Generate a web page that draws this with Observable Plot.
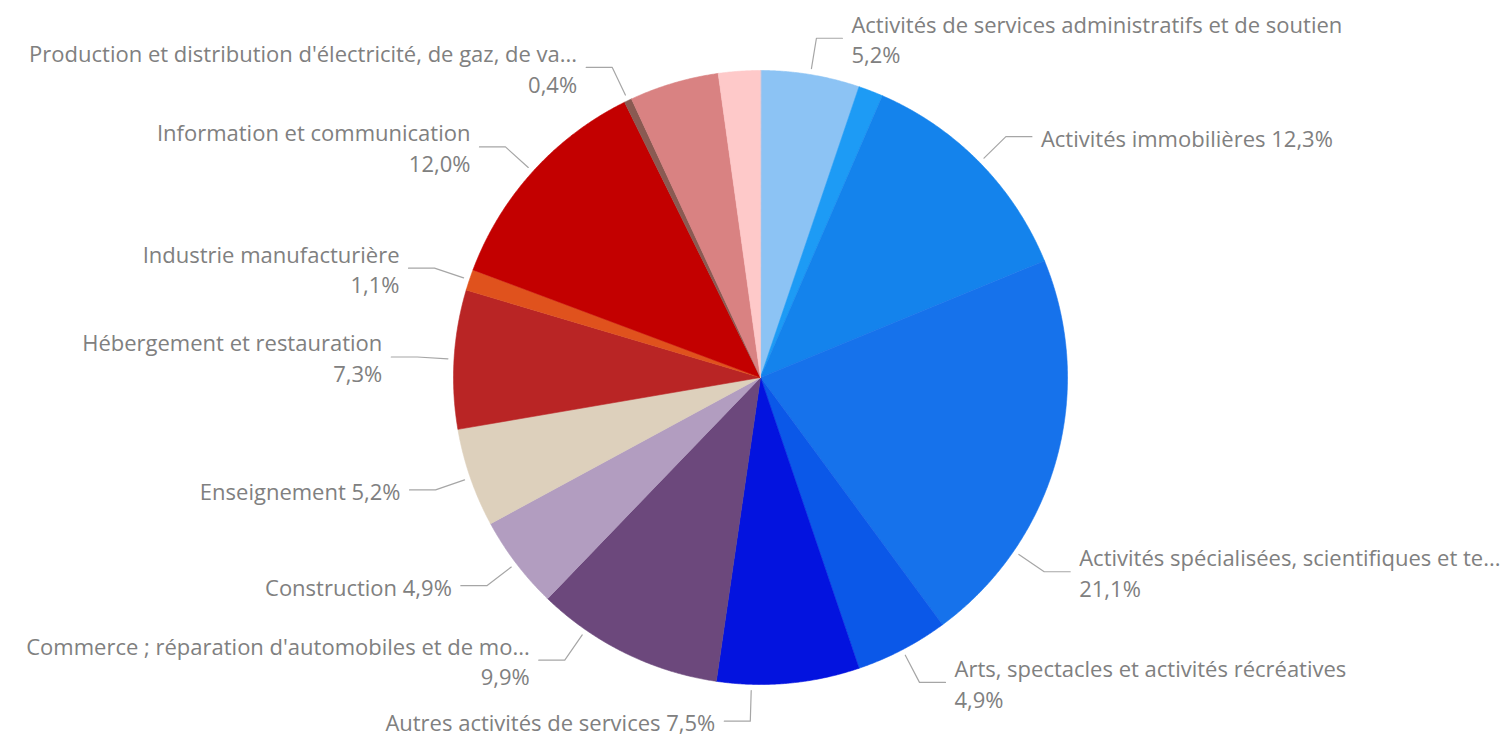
<!DOCTYPE html>
<html><head><meta charset="utf-8">
<script src="https://cdn.jsdelivr.net/npm/d3@7"></script>
<script src="https://cdn.jsdelivr.net/npm/@observablehq/plot@0.6"></script>
<style>html,body{margin:0;padding:0;background:#fff;overflow:hidden}</style>
</head><body><div id="chart"></div>
<script>
// ---- data ----
const categories = [
  "Activités de services administratifs et de soutien",
  "Activités financières et d'assurance",
  "Activités immobilières",
  "Activités spécialisées, scientifiques et te...",
  "Arts, spectacles et activités récréatives",
  "Autres activités de services",
  "Commerce ; réparation d'automobiles et de mo...",
  "Construction",
  "Enseignement",
  "Hébergement et restauration",
  "Industrie manufacturière",
  "Information et communication",
  "Production et distribution d'électricité, de gaz, de va...",
  "Santé humaine et action sociale",
  "Transports et entreposage"
];
const values = [5.2, 1.3, 12.3, 21.1, 4.9, 7.5, 9.9, 4.9, 5.2, 7.3, 1.1, 12.0, 0.4, 4.7, 2.2];
const colors = [
  "#8cc3f4", "#1d9bf5", "#1483ec", "#1672eb", "#0b58e8", "#0313df", "#6c487c",
  "#b29dc0", "#ddd0bc", "#b92525", "#e0521d", "#c30000", "#8a5a52", "#d98282", "#fec9c9"
];
const hiddenLabels = [
  "Activités financières et d'assurance",
  "Santé humaine et action sociale",
  "Transports et entreposage"
];
const singleLineLabels = [
  "Activités immobilières", "Autres activités de services", "Construction", "Enseignement"
];

// ---- layout (not data) ----
const W = 1511, H = 738, CX = 760, CY = 377, R = 307;
const labelAngleOverride = { // degrees clockwise from 12 o'clock, where labels were shifted
  "Activités spécialisées, scientifiques et te...": 124.4,
  "Autres activités de services": 181.7,
  "Commerce ; réparation d'automobiles et de mo...": 214.7
};
const fmt = v => d3.format(".1f")(v).replace(".", ",") + "%";

const arcs = d3.pie().sort(null).value(d => d)(values);

const slicePts = [];
arcs.forEach((a, i) => {
  const cat = categories[i];
  slicePts.push({cat, x: 0, y: 0});
  const n = Math.max(4, Math.ceil((a.endAngle - a.startAngle) / 0.004));
  for (let k = 0; k <= n; k++) {
    const t = a.startAngle + (a.endAngle - a.startAngle) * k / n;
    slicePts.push({cat, x: Math.sin(t), y: Math.cos(t)});
  }
});

const leaderPts = [];
const labels = [];
arcs.forEach((a, i) => {
  const cat = categories[i];
  if (hiddenLabels.includes(cat)) return;
  const mid = (cat in labelAngleOverride) ? labelAngleOverride[cat] * Math.PI / 180 : (a.startAngle + a.endAngle) / 2;
  const right = mid < Math.PI;
  const s = right ? 1 : -1;
  const r0 = 1.02, r1 = 1.12, hz = 26 / R;
  const ex = Math.sin(mid) * r1, ey = Math.cos(mid) * r1;
  leaderPts.push({cat, x: Math.sin(mid) * r0, y: Math.cos(mid) * r0});
  leaderPts.push({cat, x: ex, y: ey});
  leaderPts.push({cat, x: ex + s * hz, y: ey});
  const pct = fmt(values[i]);
  labels.push({
    x: ex + s * hz, y: ey, right,
    text: singleLineLabels.includes(cat) ? cat + " " + pct : cat + "\n" + pct
  });
});

const textOpts = {x: "x", y: "y", text: "text", fontSize: 22, fill: "#808080", lineHeight: 1.4};

const chart = Plot.plot({
  width: W, height: H,
  margin: 0,
  style: {fontFamily: "'Segoe UI', 'Open Sans', sans-serif", background: "#fff"},
  x: {domain: [-CX / R, (W - CX) / R], axis: null},
  y: {domain: [-(H - CY) / R, CY / R], axis: null},
  color: {domain: categories, range: colors},
  marks: [
    Plot.line(slicePts, {x: "x", y: "y", z: "cat", fill: "cat", stroke: "cat", strokeWidth: 0.6, curve: "linear-closed"}),
    Plot.line(leaderPts, {x: "x", y: "y", z: "cat", stroke: "#a6a6a6", strokeWidth: 1.2}),
    Plot.text(labels.filter(d => d.right), {...textOpts, textAnchor: "start", dx: 9}),
    Plot.text(labels.filter(d => !d.right), {...textOpts, textAnchor: "end", dx: -9})
  ]
});
document.getElementById("chart").appendChild(chart);
</script>
</body></html>
